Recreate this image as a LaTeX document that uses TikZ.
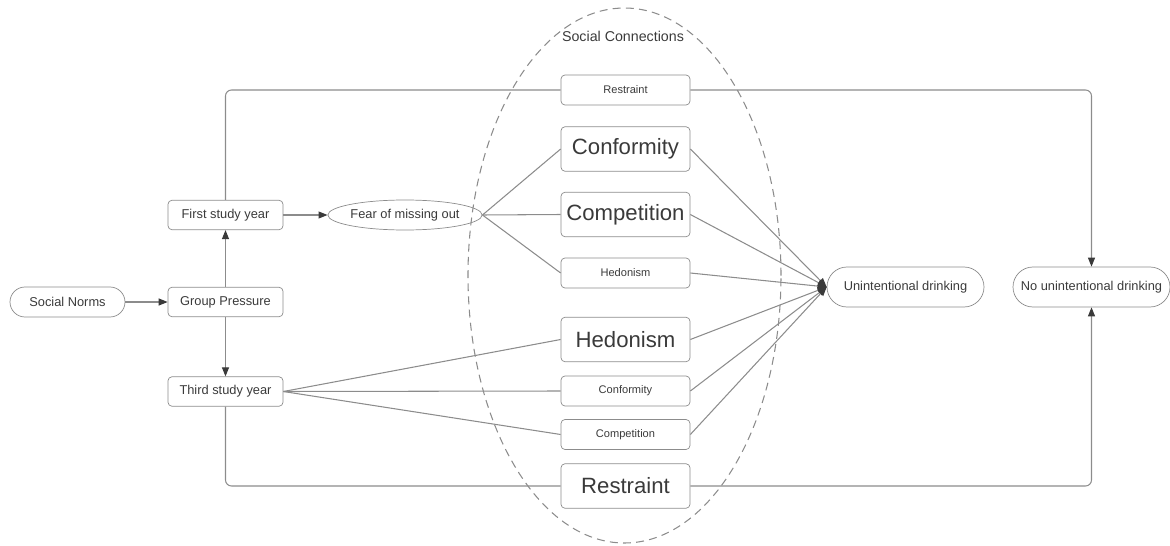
\documentclass[tikz,border=0pt]{standalone}
\usepackage{fontspec}
\setmainfont{Liberation Sans}
\usetikzlibrary{arrows.meta,shapes.geometric}
\definecolor{linegray}{HTML}{8C8C8C}
\definecolor{textgray}{HTML}{3A3A3A}
\begin{document}
\begin{tikzpicture}[
	box/.style={draw=linegray, rounded corners=0.08cm, text=textgray, inner sep=0pt, minimum width=2.58cm, minimum height=0.6cm, font=\fontsize{6.3}{7}\selectfont},
	bigbox/.style={box, minimum height=0.89cm, font=\fontsize{12.6}{14}\selectfont},
	stepbox/.style={box, minimum width=2.3cm, minimum height=0.59cm, font=\fontsize{7.3}{8}\selectfont},
	pill/.style={draw=linegray, rounded corners=0.3cm, text=textgray, inner sep=0pt, minimum width=2.3cm, minimum height=0.6cm, font=\fontsize{7.3}{8}\selectfont},
	conn/.style={draw=linegray, line width=0.6pt},
	arr/.style={-{Triangle[length=1.8mm,width=1.4mm,color=textgray]}, linegray}
]
	\useasboundingbox (0,0) rectangle (23.4,10.9);
	\draw[linegray, line width=0.6pt, dash pattern=on 4.5pt off 3pt] (12.49,5.39) ellipse (3.13cm and 5.35cm);
	\node[text=textgray, font=\fontsize{8.1}{9}\selectfont] at (12.46,10.18) (social) {Social Connections};
	\node[pill] at (1.35,4.86) (norms) {Social Norms};
	\node[stepbox] at (4.51,4.86) (pressure) {Group Pressure};
	\node[stepbox] at (4.51,6.6) (first) {First study year};
	\node[stepbox] at (4.51,3.07) (third) {Third study year};
	\node[ellipse, draw=linegray, text=textgray, inner sep=0pt, minimum width=2.6cm, minimum height=0.6cm, font=\fontsize{7.3}{8}\selectfont] at (8.1,6.6) (fomo) {Fear of missing out};
	\node[box] at (12.51,9.1) (restrA) {Restraint};
	\node[bigbox] at (12.51,7.92) (confA) {Conformity};
	\node[bigbox] at (12.51,6.61) (compA) {Competition};
	\node[box] at (12.51,5.44) (hedA) {Hedonism};
	\node[bigbox] at (12.51,4.11) (hedB) {Hedonism};
	\node[box] at (12.51,3.08) (confB) {Conformity};
	\node[box] at (12.51,2.21) (compB) {Competition};
	\node[bigbox] at (12.51,1.18) (restrB) {Restraint};
	\node[pill, rounded corners=0.4cm, minimum width=3.14cm, minimum height=0.8cm] at (18.11,5.16) (udrink) {Unintentional drinking};
	\node[pill, rounded corners=0.4cm, minimum width=3.14cm, minimum height=0.8cm] at (21.83,5.16) (noudrink) {No unintentional drinking};
	\path[conn] (norms) edge[arr] (pressure)
	(pressure) edge[arr] (first)
	(pressure) edge[arr] (third)
	(first) edge[arr] (fomo)
	(fomo.east) edge (confA.west)
	(fomo.east) edge (compA.west)
	(fomo.east) edge (hedA.west)
	(third.east) edge (hedB.west)
	(third.east) edge (confB.west)
	(third.east) edge (compB.west);
	\path[conn] (confA.east) edge[arr] (udrink.west)
	(compA.east) edge[arr] (udrink.west)
	(hedA.east) edge[arr] (udrink.west)
	(hedB.east) edge[arr] (udrink.west)
	(confB.east) edge[arr] (udrink.west)
	(compB.east) edge[arr] (udrink.west);
	\draw[conn, rounded corners=0.12cm] (first.north) |- (restrA.west);
	\draw[conn, rounded corners=0.12cm] (third.south) |- (restrB.west);
	\draw[conn, arr, rounded corners=0.12cm] (restrA.east) -| (noudrink.north);
	\draw[conn, arr, rounded corners=0.12cm] (restrB.east) -| (noudrink.south);
\end{tikzpicture}
\end{document}
